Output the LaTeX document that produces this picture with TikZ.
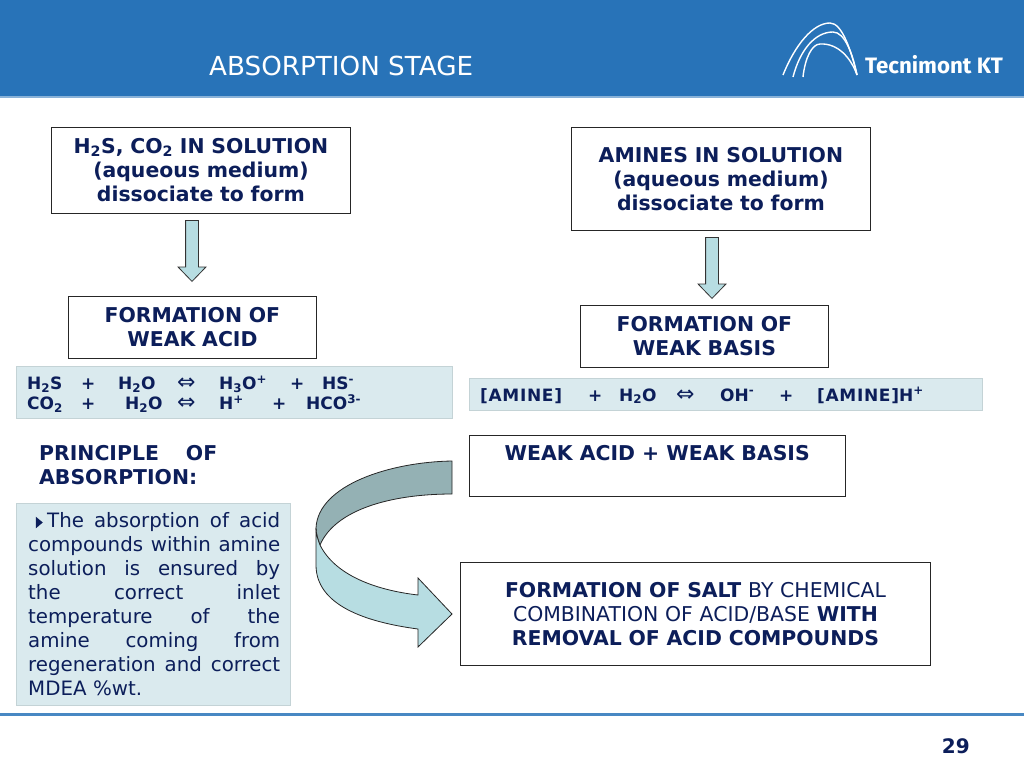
\documentclass[tikz,border=0pt]{standalone}
\usepackage{fontspec}
\setmainfont{DejaVu Sans}
\newfontfamily\logofont{Fira Sans}
\usetikzlibrary{shapes.arrows,shapes.geometric}
\definecolor{myblue}{RGB}{40,115,184}
\definecolor{myink}{RGB}{12,30,90}
\definecolor{mypale}{RGB}{218,234,238}
\definecolor{myarrow}{RGB}{183,221,226}
\definecolor{mydark}{RGB}{148,177,180}
\newcommand{\chem}[1]{$_{\mathbf{#1}}$}
\newcommand{\ion}[1]{\textsuperscript{#1}}
\newcommand{\sline}[2]{\makebox[#1][s]{\spaceskip=0pt\xspaceskip=0pt #2}}
\newcommand{\jline}[1]{\sline{252pt}{#1}}
\newcommand{\amine}{{\addfontfeatures{LetterSpace=4}[AMINE]}}
\newcommand{\eqv}{{\fontsize{22}{22}\selectfont\mdseries ⇔}}
\begin{document}
\begin{tikzpicture}[x=1pt,y=-1pt,
    every node/.style={text=myink,font=\fontsize{20.4}{24}\selectfont\bfseries,align=center,inner sep=0pt},
    boxnode/.style={draw=black!85,line width=0.9pt,fill=white,anchor=north west,minimum height=#1},
    palenode/.style={fill=mypale,draw=mypale!90!black,line width=0.4pt,anchor=north west,minimum height=#1},
    downarrow/.style={draw=black!80,line width=0.8pt,fill=myarrow,single arrow,shape border rotate=270,inner sep=6pt,
      single arrow head extend=7.5pt,single arrow tip angle=88,anchor=tip},
    chemtext/.style={anchor=base west,font=\fontsize{17}{20}\selectfont\bfseries}
  ]
  \useasboundingbox (0,0) rectangle (1024,768);

  % the header
  \fill[myblue] (0,0) rectangle (1024,96);
  \fill[myblue!55] (0,96) rectangle (1024,98);
  \node (title) [anchor=base west,text=white,font=\fontsize{26.2}{28}\selectfont] at (209,75) {ABSORPTION STAGE};

  % the logo
  \begin{scope}[draw=white,line width=1.4pt]
  \draw (783,75) .. controls (795,45) and (813,23) .. (830,23) .. controls (842,23) and (851,50) .. (857,75);
  \draw (793,77) .. controls (800,50) and (815,32) .. (833,32) .. controls (845,32) and (853,55) .. (857,75);
  \draw (803,77) .. controls (805,58) and (812,44) .. (820,44) .. controls (838,43) and (851,58) .. (857,75);
  \end{scope}
  \node (logo) [anchor=base west,text=white,font=\logofont\fontsize{22.3}{24}\selectfont\bfseries] at (865,74) {Tecnimont KT};

  % the boxes of the left column
  \node (acidsol) [boxnode=86pt,text width=299pt] at (51,126.5) {H\chem{2}S, CO\chem{2} IN SOLUTION\\(aqueous medium)\\dissociate to form};
  \node (acidarrow) [downarrow,minimum height=61pt] at (192,282) {};
  \node (acid) [boxnode=61.5pt,text width=248pt] at (68,296) {FORMATION OF\\WEAK ACID};
  \node (acidchem) [palenode=52pt,minimum width=436pt] at (16,366) {};
  \node (principle) [anchor=north west,align=left,text width=180pt] at (39,445) {\sline{178pt}{PRINCIPLE OF}\\ABSORPTION:};
  \node (textbox) [palenode=202pt,minimum width=274pt] at (16,503) {};

  % the boxes of the right column
  \node (aminesol) [boxnode=103pt,text width=299pt] at (571,127) {AMINES IN SOLUTION\\(aqueous medium)\\dissociate to form};
  \node (aminearrow) [downarrow,minimum height=61pt] at (712,299) {};
  \node (basis) [boxnode=62pt,text width=248pt] at (580,304.5) {FORMATION OF\\WEAK BASIS};
  \node (aminechem) [palenode=32pt,minimum width=513pt] at (469,378) {};
  \node (sum) [boxnode=61pt,text width=375.5pt,align=center] at (469,434.5) {};
  \node (sumtext) [anchor=base] at (sum.north |- 0,460) {WEAK ACID + WEAK BASIS};
  \node (salt) [boxnode=103pt,text width=470pt,font=\fontsize{20.4}{24}\selectfont] at (460,562)
    {\textbf{FORMATION OF SALT} BY CHEMICAL\\COMBINATION OF ACID/BASE \textbf{WITH}\\\textbf{REMOVAL OF ACID COMPOUNDS}};

  % the equations
  \foreach \name/\x/\y/\txt in {
    a1/27/389.5/{H\chem{2}S}, a2/81/389.5/{+}, a3/118/389.5/{H\chem{2}O}, a4/177/389.5/{\eqv}, a5/219/389.5/{H\chem{3}O\ion{+}}, a6/290/389.5/{+}, a7/322/389.5/{HS\ion{-}},
    b1/27/409.5/{CO\chem{2}}, b2/81/409.5/{+}, b3/125/409.5/{H\chem{2}O}, b4/177/409.5/{\eqv}, b5/219/409.5/{H\ion{+}}, b6/272/409.5/{+}, b7/306/409.5/{HCO\ion{3-}},
    c1/480/401/{\amine}, c2/588/401/{+}, c3/619/401/{H\chem{2}O}, c4/676/401/{\eqv}, c5/720/401/{OH\ion{-}}, c6/779/401/{+}, c7/817/401/{\amine H\ion{+}}}
    \node (\name) [chemtext] at (\x,\y) {\txt};

  % the text of the pale box
  \node (bullet) [isosceles triangle,fill=myink,minimum height=7pt,minimum width=11pt,isosceles triangle apex angle=80] at (38.5,522.5) {};
  \node (bodytext) [anchor=north west,align=left,text width=254pt,font=\fontsize{19.8}{24}\selectfont\mdseries] at (28,512) {%
    \hspace*{19pt}\sline{233pt}{The absorption of acid}\\
    \jline{compounds within amine}\\
    \jline{solution is ensured by}\\
    \jline{the correct inlet}\\
    \jline{temperature of the}\\
    \jline{amine coming from}\\
    \jline{regeneration and correct}\\
    MDEA \%wt.};

  % the curved arrow
  \draw[fill=mydark,draw=black!85,line width=0.8pt] (452,461) .. controls (390,462) and (318,485) .. (316,528)
    .. controls (316,534) and (318,540) .. (320,545) .. controls (335,510) and (390,494) .. (452,494) -- cycle;
  \draw[fill=myarrow,draw=black!85,line width=0.8pt] (316,528) .. controls (316,534) and (318,540) .. (320,545)
    .. controls (335,575) and (375,590) .. (418,595) -- (418,578) -- (452,614) -- (418,647) -- (418,629)
    .. controls (365,622) and (316,605) .. (316,565) -- cycle;

  % the footer
  \fill[myblue!85!white] (0,713) rectangle (1024,715.5);
  \node (page) [anchor=base east,font=\fontsize{20}{24}\selectfont\bfseries] at (970,753) {29};
\end{tikzpicture}
\end{document}
